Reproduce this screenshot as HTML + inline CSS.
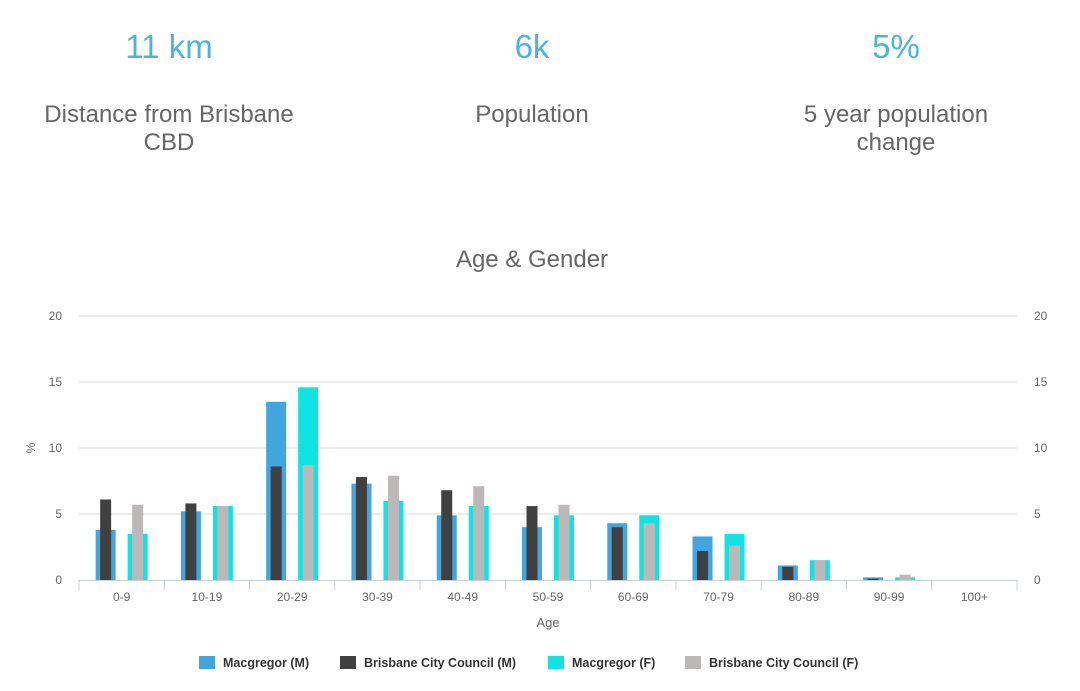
<!DOCTYPE html>
<html><head><meta charset="utf-8"><style>
body{margin:0;width:1080px;height:691px;background:#fff;font-family:"Liberation Sans",sans-serif;overflow:hidden;position:relative}
.stat{position:absolute;width:300px;text-align:center}
.num{position:absolute;top:28px;font-size:33px;color:#4cb3e0;width:300px;text-align:center}
.lab{position:absolute;top:101px;font-size:24px;color:#666;line-height:28px;width:300px;text-align:center}
</style></head><body>
<div class="num" style="left:19px">11 km</div>
<div class="lab" style="left:19px">Distance from Brisbane CBD</div>
<div class="num" style="left:382px">6k</div>
<div class="lab" style="left:382px">Population</div>
<div class="num" style="left:746px">5%</div>
<div class="lab" style="left:746px;width:300px">5 year population<br>change</div>
<svg id="chart" width="1080" height="691" style="position:absolute;left:0;top:0" font-family="Liberation Sans, sans-serif"></svg>
<script>
const categories=["0-9","10-19","20-29","30-39","40-49","50-59","60-69","70-79","80-89","90-99","100+"];
const macM=[3.8,5.2,13.5,7.3,4.9,4.0,4.3,3.3,1.1,0.2,0];
const bccM=[6.1,5.8,8.6,7.8,6.8,5.6,4.0,2.2,1.0,0.1,0];
const macF=[3.5,5.6,14.6,6.0,5.6,4.9,4.9,3.5,1.5,0.2,0];
const bccF=[5.7,5.6,8.7,7.9,7.1,5.7,4.3,2.6,1.5,0.4,0];
const yTicks=[0,5,10,15,20];
const legendNames=["Macgregor (M)","Brisbane City Council (M)","Macgregor (F)","Brisbane City Council (F)"];
const colors=["#41a5e0","#404040","#10e3e3","#bdb8b8"];
const svg=document.getElementById('chart');
const NS="http://www.w3.org/2000/svg";
const x0=79,x1=1017,y0=580,y20=316;
const y=v=>y0-(y0-y20)*v/20;
const bw=(x1-x0)/categories.length;
const cx=i=>x0+bw*(i+0.5);
function mk(t,a,txt){const e=document.createElementNS(NS,t);for(const k in a)e.setAttribute(k,a[k]);if(txt!==undefined)e.textContent=txt;svg.appendChild(e);return e;}
let e=mk('text',{x:532,y:267,'text-anchor':'middle','font-size':24,fill:'#666'},'Age & Gender');


yTicks.forEach(t=>{
 if(t>0){e=mk('line',{x1:x0,x2:x1,y1:y(t),y2:y(t),stroke:'#d8d8d8','stroke-width':1});
 
 }
 e=mk('text',{x:62,y:y(t)+4,'text-anchor':'end','font-size':12,fill:'#666'},t);
 
 
 e=mk('text',{x:1034,y:y(t)+4,'font-size':12,fill:'#666'},t);
 
 
});
e=mk('text',{x:35,y:448,'text-anchor':'middle','font-size':12,fill:'#666',transform:'rotate(-90 35 448)'},'%');


function bar(v,xc,w,c,n){const b=mk('rect',{x:xc-w/2,y:y(v),width:w,height:y0-y(v),fill:c});
 
 }
categories.forEach((c,i)=>{
 const m=cx(i)-16,f=cx(i)+16;
 bar(macM[i],m,20,colors[0],'bar-macgregor-m');
 bar(bccM[i],m,11,colors[1],'bar-bcc-m');
 bar(macF[i],f,20,colors[2],'bar-macgregor-f');
 bar(bccF[i],f,11,colors[3],'bar-bcc-f');
 e=mk('text',{x:cx(i),y:601,'text-anchor':'middle','font-size':12,fill:'#666'},c);
 
 
});
e=mk('line',{x1:x0,x2:x1,y1:y0+0.5,y2:y0+0.5,stroke:'#c8d0dc'});


for(let i=0;i<=categories.length;i++){e=mk('line',{x1:x0+bw*i,x2:x0+bw*i,y1:y0,y2:y0+10,stroke:'#c8d0dc'});
 
 }
e=mk('text',{x:548,y:627,'text-anchor':'middle','font-size':13,fill:'#666'},'Age');


const lx=[199,340,548,685];
legendNames.forEach((n,i)=>{
 const g=mk('g',{});
 
 
 const r=document.createElementNS(NS,'rect');r.setAttribute('x',lx[i]);r.setAttribute('y',656);r.setAttribute('width',16);r.setAttribute('height',13);r.setAttribute('fill',colors[i]);g.appendChild(r);
 const t=document.createElementNS(NS,'text');t.setAttribute('x',lx[i]+24);t.setAttribute('y',667);t.setAttribute('font-size',12.5);t.setAttribute('font-weight','bold');t.setAttribute('fill','#333');t.textContent=n;g.appendChild(t);
});
</script>
</body></html>
